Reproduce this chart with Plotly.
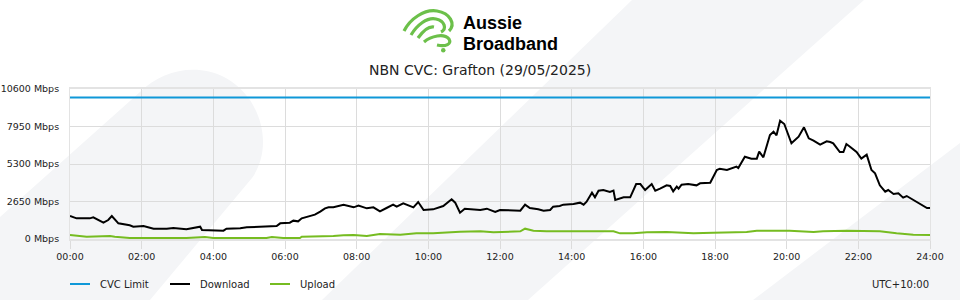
import plotly.graph_objects as go

# ---------------- data ----------------
title_text = "NBN CVC: Grafton (29/05/2025)"
x_tick_labels = ["00:00", "02:00", "04:00", "06:00", "08:00", "10:00", "12:00",
                 "14:00", "16:00", "18:00", "20:00", "22:00", "24:00"]
y_tick_values = [0, 2650, 5300, 7950, 10600]
y_tick_labels = ["0 Mbps", "2650 Mbps", "5300 Mbps", "7950 Mbps", "10600 Mbps"]

cvc_time = ["00:00", "24:00"]
cvc_limit = [10000, 10000]

download_time = [
    "00:00", "00:11", "00:33", "00:39", "00:56", "01:04", "01:10", "01:21", "01:40", "01:46",
    "02:03", "02:20", "02:42", "02:53", "03:15", "03:38", "03:41", "04:00", "04:17", "04:22",
    "04:45", "04:56", "05:18", "05:29", "05:46", "05:52", "06:08", "06:14", "06:22", "06:28",
    "06:42", "06:50", "06:59", "07:07", "07:13", "07:21", "07:38", "07:55", "08:03", "08:17",
    "08:28", "08:39", "08:50", "09:01", "09:07", "09:18", "09:35", "09:43", "09:52", "10:08",
    "10:25", "10:39", "10:45", "10:53", "11:01", "11:27", "11:38", "11:52", "12:00", "12:34",
    "12:42", "12:50", "13:04", "13:13", "13:24", "13:29", "13:40", "13:46", "14:03", "14:14",
    "14:20", "14:25", "14:34", "14:39", "14:45", "14:53", "15:04", "15:10", "15:13", "15:27",
    "15:38", "15:48", "15:55", "16:03", "16:14", "16:20", "16:28", "16:39", "16:45", "16:50",
    "16:56", "16:59", "17:04", "17:15", "17:29", "17:35", "17:52", "18:03", "18:08", "18:20",
    "18:36", "18:39", "18:50", "19:01", "19:10", "19:14", "19:21", "19:32", "19:38", "19:43",
    "19:49", "19:56", "20:08", "20:20", "20:29", "20:37", "20:45", "20:56", "21:07", "21:13",
    "21:18", "21:29", "21:35", "21:40", "21:46", "21:57", "22:05", "22:14", "22:22", "22:28",
    "22:36", "22:45", "22:50", "22:59", "23:07", "23:15", "23:21", "23:32", "23:43", "23:55",
    "24:00"]
download_mbps = [
    1625, 1460, 1460, 1530, 1154, 1343, 1625, 1107, 965, 871,
    918, 730, 730, 777, 683, 871, 636, 636, 589, 730,
    754, 824, 871, 918, 918, 1107, 1154, 1296, 1248, 1460,
    1625, 1720, 1932, 2167, 2238, 2238, 2426, 2238, 2356, 2167,
    2238, 1955, 2191, 2426, 2285, 2520, 2238, 2615, 2049, 2096,
    2332, 2803, 2567, 1861, 2143, 2049, 2143, 1908, 2049, 2002,
    2426, 2191, 2096, 2002, 2049, 2285, 2332, 2426, 2473, 2567,
    2426, 2638, 3274, 2944, 3415, 3462, 3321, 3415, 2756, 2944,
    2944, 3886, 3886, 3462, 3886, 3415, 3556, 3792, 3745, 3368,
    3698, 3556, 3839, 3886, 3792, 3933, 3980, 4875, 4970, 4875,
    5111, 5017, 5818, 5677, 5677, 6172, 5771, 7350, 7585, 7326,
    8363, 8127, 6761, 7232, 7892, 7114, 6949, 6666, 6902, 6855,
    6761, 6148, 6148, 6714, 6525, 6148, 5677, 5960, 4875, 4640,
    3792, 3344, 3462, 3180, 3227, 2921, 3038, 2756, 2520, 2191,
    2191]

upload_time = [
    "00:00", "00:28", "01:07", "01:15", "01:40", "03:07", "03:15", "03:46", "04:00", "05:29",
    "05:38", "05:57", "06:25", "06:28", "06:59", "07:21", "07:38", "07:55", "08:17", "08:39",
    "09:13", "09:40", "10:08", "10:25", "10:53", "11:27", "11:49", "12:34", "12:42", "12:56",
    "13:18", "15:10", "15:21", "15:43", "16:06", "16:39", "17:24", "17:57", "18:53", "19:10",
    "19:49", "20:05", "20:45", "21:01", "21:40", "22:36", "23:04", "23:32", "24:00"]
upload_mbps = [
    283, 165, 212, 165, 71, 118, 71, 141, 71, 71,
    141, 71, 71, 165, 165, 212, 259, 283, 212, 353,
    306, 400, 400, 447, 518, 542, 471, 542, 730, 589,
    542, 542, 400, 400, 471, 495, 400, 447, 495, 589,
    589, 589, 495, 542, 589, 542, 400, 306, 283]

legend_names = ["CVC Limit", "Download", "Upload"]
timezone_label = "UTC+10:00"
logo_lines = ["Aussie", "Broadband"]


def hours(t):
    h, m = t.split(":")
    return int(h) + int(m) / 60.0


# ---------------- layout helpers ----------------
W, H = 960, 300
L, R, T, B = 70, 930, 89, 239   # plot area in pixels


def px(x):
    return (x - L) / (R - L)


def py(y):
    return (B - y) / (B - T)


def open_path(cmds):
    out = []
    for c, pts in cmds:
        out.append(c + " " + " ".join(f"{px(x):.5f},{py(y):.5f}" for x, y in pts))
    return " ".join(out)


def path(cmds):
    return open_path(cmds) + " Z"


BLUE = "#0f98d8"
GREEN = "#76bc21"
BG = "#f4f5f7"
GRID = "#dcdcdc"
FONT = "DejaVu Sans"

fig = go.Figure()
fig.add_trace(go.Scatter(x=[hours(t) for t in cvc_time], y=cvc_limit, mode="lines",
                         line=dict(color=BLUE, width=2), name=legend_names[0],
                         hoverinfo="skip"))
fig.add_trace(go.Scatter(x=[hours(t) for t in download_time], y=download_mbps, mode="lines",
                         line=dict(color="#000000", width=2), name=legend_names[1]))
fig.add_trace(go.Scatter(x=[hours(t) for t in upload_time], y=upload_mbps, mode="lines",
                         line=dict(color=GREEN, width=2), name=legend_names[2]))

shapes = []
# background watermark shapes
shapes.append(dict(type="path", xref="paper", yref="paper", layer="below",
                   fillcolor=BG, line=dict(width=0),
                   path=path([("M", [(0, 217)]), ("L", [(140, 92)]),
                              ("C", [(170, 62), (222, 60), (250, 100)]),
                              ("C", [(268, 128), (266, 158), (252, 178)]),
                              ("L", [(150, 300)]), ("L", [(0, 300)])])))
shapes.append(dict(type="path", xref="paper", yref="paper", layer="below",
                   fillcolor=BG, line=dict(width=0),
                   path=path([("M", [(632, 0)]), ("L", [(864, 0)]),
                              ("L", [(528, 300)]), ("L", [(322, 300)])])))
shapes.append(dict(type="path", xref="paper", yref="paper", layer="below",
                   fillcolor=BG, line=dict(width=0),
                   path=path([("M", [(960, 143)]), ("L", [(960, 300)]),
                              ("L", [(753, 300)])])))

# logo icon strokes
icon_paths = [
    [("M", [(404, 31)]), ("C", [(410, 19), (424, 9), (437, 11)]),
     ("C", [(450, 13), (456, 24), (449, 31)])],
    [("M", [(411, 35)]), ("C", [(417, 25), (427, 17), (436, 19)]),
     ("C", [(445, 21), (447, 29), (441, 32)])],
    [("M", [(418, 38)]), ("C", [(423, 31), (429, 26), (434, 27)])],
    [("M", [(424, 42)]), ("C", [(431, 36), (444, 33), (449, 39)]),
     ("C", [(452, 44), (446, 47), (437, 45)])],
]
for p in icon_paths:
    shapes.append(dict(type="path", xref="paper", yref="paper", layer="above",
                       path=open_path(p), line=dict(color="#6cc04a", width=3.2)))
shapes.append(dict(type="circle", xref="paper", yref="paper", layer="above",
                   x0=px(441), x1=px(445.5), y0=py(48), y1=py(52.5),
                   fillcolor="#6cc04a", line=dict(width=0)))

# legend line samples
legend_colors = [BLUE, "#000000", GREEN]
legend_x = [70, 170, 270]
annotations = []
for name, col, x0 in zip(legend_names, legend_colors, legend_x):
    shapes.append(dict(type="line", xref="paper", yref="paper", x0=px(x0), x1=px(x0 + 20),
                       y0=py(284), y1=py(284), line=dict(color=col, width=2)))
    annotations.append(dict(text=name, xref="paper", yref="paper", x=px(x0 + 28), y=py(284),
                            xanchor="left", yanchor="middle", showarrow=False,
                            font=dict(family=FONT, size=10, color="#222222")))

annotations.append(dict(text=timezone_label, xref="paper", yref="paper", x=px(931), y=py(284),
                        xanchor="right", yanchor="middle", showarrow=False,
                        font=dict(family=FONT, size=10, color="#222222")))
annotations.append(dict(text=title_text, xref="paper", yref="paper", x=px(480),
                        y=py(70), xanchor="center", yanchor="middle", showarrow=False,
                        font=dict(family=FONT, size=14, color="#222222")))
annotations.append(dict(text="<b>" + logo_lines[0] + "</b>", xref="paper", yref="paper",
                        x=px(461), y=py(23.5), xanchor="left", yanchor="middle", showarrow=False,
                        font=dict(family="Liberation Sans", size=18, color="#000000")))
annotations.append(dict(text="<b>" + logo_lines[1] + "</b>", xref="paper", yref="paper",
                        x=px(461), y=py(43.5), xanchor="left", yanchor="middle", showarrow=False,
                        font=dict(family="Liberation Sans", size=18, color="#000000")))

fig.update_layout(
    width=W, height=H,
    margin=dict(l=L, r=W - R, t=T, b=H - B, autoexpand=False),
    paper_bgcolor="#ffffff", plot_bgcolor="rgba(0,0,0,0)",
    showlegend=False,
    shapes=shapes, annotations=annotations,
    font=dict(family=FONT, size=10, color="#222222"),
    xaxis=dict(range=[0, 24], tickmode="array", tickvals=list(range(0, 25, 2)),
               ticktext=x_tick_labels, showgrid=True, gridcolor=GRID, gridwidth=1,
               ticks="outside", ticklen=8, tickcolor=GRID, tickwidth=1,
               showline=True, linecolor="#e3e3e3", linewidth=2, mirror=True,
               zeroline=False, automargin=False,
               tickfont=dict(family=FONT, size=9.5, color="#222222"),
               fixedrange=True),
    yaxis=dict(range=[0, 10600], tickmode="array", tickvals=y_tick_values,
               ticktext=y_tick_labels, showgrid=True, gridcolor=GRID, gridwidth=1,
               ticks="", ticklabelstandoff=8, automargin=False,
               showline=True, linecolor="#e3e3e3", linewidth=1, mirror=True,
               zeroline=False,
               tickfont=dict(family=FONT, size=9.5, color="#222222"),
               fixedrange=True),
)

fig.write_html("out.html")
